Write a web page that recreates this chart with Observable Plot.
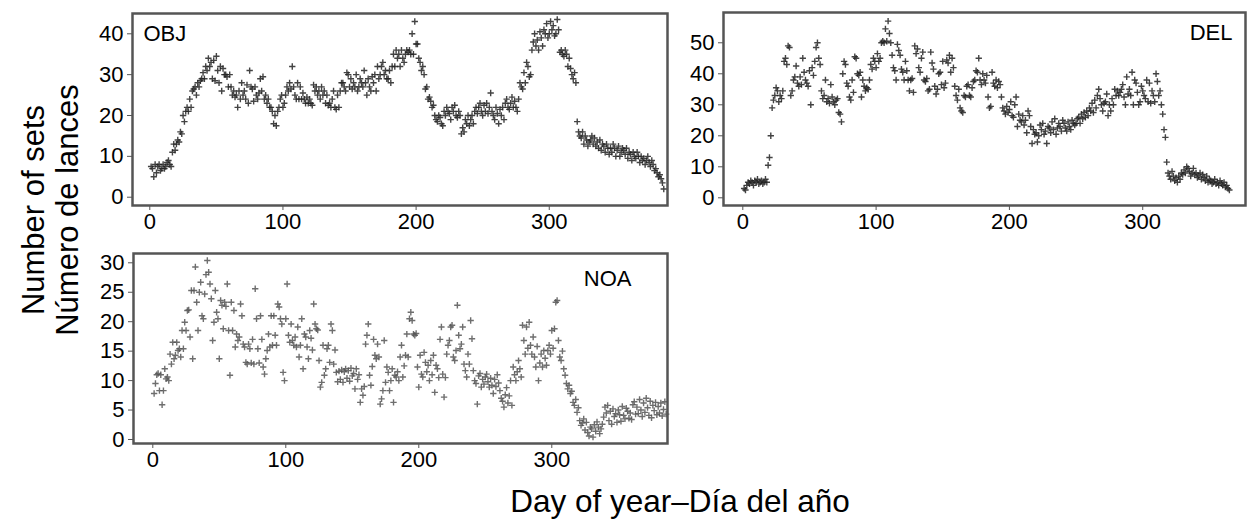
<!DOCTYPE html>
<html>
<head>
<meta charset="utf-8">
<script src="https://cdn.jsdelivr.net/npm/d3@7"></script>
<script src="https://cdn.jsdelivr.net/npm/@observablehq/plot@0.6"></script>
<style>
  html, body { margin: 0; padding: 0; background: #fff; }
  #fig { position: relative; width: 1248px; height: 525px; overflow: hidden; font-family: "Liberation Sans", Arial, sans-serif; color: #000; }
  .panel { position: absolute; }
  .ytitle { position: absolute; transform: translate(-50%, -50%) rotate(-90deg); white-space: nowrap; font-size: 31px; line-height: 1; }
  .xtitle { position: absolute; transform: translateX(-50%); white-space: nowrap; font-size: 31.5px; line-height: 1; }
</style>
</head>
<body>
<div id="fig"></div>
<script>
// OBJ – number of sets per day (day 1 onward)
const objSets = [
  7.5, 7, 5, 8, 6, 7.5, 8, 6.5, 7, 8,
  7, 7.5, 8.5, 9, 8, 7.5, 11, 13, 11.5, 13,
  14, 13.5, 16, 15.5, 20, 18.5, 21, 22, 21, 24,
  22, 26, 26.5, 27, 25, 28, 27, 28.5, 29, 30.5,
  29, 32, 31, 34, 32, 33, 29, 33.5, 28.5, 34.5,
  31, 28, 32, 26, 31.5, 30, 30, 29.5, 27, 30,
  27, 25, 26, 24.5, 25, 22, 26, 24, 28, 25,
  26, 24, 27.5, 23, 31, 27, 26.5, 23.5, 27, 25,
  24, 25.5, 29, 26, 29.5, 24, 25, 23, 24, 22,
  22, 21, 18, 20, 17.5, 21, 22, 24, 25, 22,
  23, 25, 27, 26, 28, 26.5, 32, 27, 25, 24,
  28, 24, 27, 24, 25.5, 24, 23, 24.5, 23, 24,
  23, 22.5, 27.5, 26, 27, 25, 26, 24, 27, 25,
  26, 23, 25, 22.5, 23, 22, 24, 26, 22, 21.5,
  25, 22, 26, 28, 28, 27, 26, 30.5, 30, 27,
  29, 26.5, 28, 27, 30, 26, 27, 29, 28, 27,
  31, 28, 25, 29, 27, 26, 29.5, 28, 30, 26,
  32, 29, 30, 32, 33, 30, 31, 29, 29, 31,
  28, 32, 35, 32, 36, 34, 35, 32, 36, 34,
  33, 35, 36, 35.5, 36, 35, 40, 35, 43, 37.5,
  37.5, 34, 33, 31, 32, 30, 26.5, 27, 24, 24.5,
  23.5, 22, 22.5, 20, 19, 18.5, 20, 19.5, 18, 17.5,
  21, 20, 22, 21, 20.5, 19, 22, 21, 22.5, 20,
  19.5, 21, 20, 15.5, 17, 16, 19, 18, 20, 17.5,
  19, 20, 18, 21, 22, 20.5, 22, 23, 21, 20,
  22.5, 21, 23, 20.5, 22, 25.5, 21, 20, 19, 22,
  20.5, 18, 21.5, 20, 22, 19, 23, 24, 22, 21.5,
  23, 24.5, 22, 23.5, 22, 21, 24, 28, 27, 26.5,
  30.5, 28, 33, 32, 29.5, 30, 36, 38, 40, 37,
  38.5, 36, 40.5, 39, 37, 41, 40, 42.5, 39, 40,
  43, 41, 42, 39.5, 40, 43.5, 41, 35.5, 36, 35,
  34.5, 36, 35, 32, 34, 31.5, 30, 29, 30.5, 28,
  18.5, 16, 15, 14.5, 16, 13, 15, 14, 12.5, 13.5,
  14, 15, 13, 14.5, 12.5, 13.5, 12, 14, 11.5, 13,
  12.5, 11, 13, 12, 10.5, 12, 11, 13, 12, 10,
  11.5, 12.5, 10, 11, 12, 11.5, 10.5, 12, 9.5, 11,
  10.5, 9, 11, 10, 9.5, 11, 10, 8.5, 10, 9,
  9.5, 8, 9, 10, 8.5, 7.5, 9, 8, 6.5, 7,
  6, 5, 5.5, 4.5, 3.5, 2
];

// DEL – number of sets per day (day 1 onward)
const delSets = [
  3, 2.5, 4, 5, 4.5, 5.5, 5, 4, 5.5, 5,
  6, 4.5, 5, 5.5, 4.5, 5, 6, 5, 10.5, 13,
  20, 29, 31.5, 33, 35.5, 34.5, 31, 33, 32, 34.5,
  44, 45, 43, 49, 48.5, 33, 34.5, 38, 39, 42.5,
  37, 36, 39, 36.5, 45, 40.5, 38, 37, 36, 41,
  30, 42, 39.5, 44, 48.5, 50, 45, 43, 34.5, 32,
  33, 38, 31, 32, 30.5, 36.5, 32.5, 31, 30, 31.5,
  32, 27.5, 27, 24.5, 40, 44, 43, 37, 36, 32.5,
  31.5, 38, 34, 45.5, 45, 40, 39.5, 40.5, 32.5, 38,
  36, 34.5, 35.5, 35, 38, 43, 41.5, 45, 44, 42,
  46.5, 44, 45, 50, 50.5, 50, 54.5, 50.5, 57, 53,
  50, 46, 42, 41, 38, 49.5, 47.5, 46, 41.5, 40.5,
  38, 44, 41, 38, 34.5, 38, 38.5, 34, 49, 46.5,
  48, 42, 40.5, 45, 47, 38, 37.5, 38.5, 34.5, 35,
  47, 43.5, 41.5, 36, 33.5, 35, 40, 40.5, 36.5, 44,
  35.5, 37, 44.5, 43.5, 46, 40.5, 45, 42, 36, 33,
  31.5, 35, 29, 28, 27.5, 33, 32.5, 36, 36.5, 33,
  32.5, 35.5, 37.5, 38, 41, 40.5, 45, 38, 36.5, 40,
  38, 37, 39.5, 32.5, 29, 29.5, 40.5, 37, 36, 38,
  35.5, 37.5, 36.5, 32.5, 29, 28, 27, 29.5, 27.5, 28.5,
  31, 26.5, 26, 30, 32.5, 23, 27, 25, 24.5, 26.5,
  23.5, 25, 21, 28, 26.5, 23, 17.5, 22, 20.5, 21,
  18, 20, 23.5, 22, 24, 20.5, 21.5, 17.5, 23, 22.5,
  21, 24.5, 22, 25.5, 20.5, 22.5, 24, 23, 21.5, 25,
  24, 22.5, 21.5, 24.5, 23, 22, 25, 24, 23.5, 24,
  25.5, 26, 24, 27, 25.5, 27.5, 26, 28, 26.5, 29,
  28, 30.5, 27.5, 31.5, 29, 33, 35, 32, 30, 28,
  30.5, 31, 33.5, 26.5, 30, 28, 32, 30, 35, 33,
  34.5, 33, 34, 35, 36.5, 32.5, 30, 39, 33.5, 35,
  33, 40.5, 30, 38, 37, 34, 30, 31, 36, 34.5,
  33, 32, 38, 31, 37, 30.5, 34.5, 33, 31, 40,
  37.5, 33, 34.5, 30, 27, 22, 19.5, 11.5, 8, 7,
  6, 8.5, 7, 5.5, 6.5, 5, 7, 6, 8, 7.5,
  9, 8, 10, 9.5, 8.5, 7, 8, 9.5, 7.5, 8,
  6.5, 7, 8, 6, 7.5, 6.5, 5.5, 7, 5, 6,
  5.5, 4.5, 5, 6, 4.5, 5, 4, 5.5, 4.5, 4,
  5, 3.5, 4, 3, 2.5
];

// NOA – number of sets per day (day 1 onward)
const noaSets = [
  7.8, 9.5, 11, 11.2, 8.3, 11, 5.9, 8.3, 12, 10.3,
  10.6, 10, 14.5, 12.8, 16.5, 13.7, 14.3, 16.5, 15.1, 15.4,
  14, 18.5, 15.4, 19.9, 18.5, 21.9, 22, 17.4, 25.3, 13.7,
  25.3, 29.3, 23.3, 18.5, 25, 26.7, 21, 20.5, 24.7, 28,
  30.4, 28.4, 26.4, 23.9, 16.8, 19.9, 25.3, 21.6, 20.5, 13.7,
  23.6, 22.8, 18.8, 23.3, 22.6, 26.4, 18.5, 10.9, 23.3, 18.5,
  21.9, 15.7, 17.9, 16.8, 17.4, 23, 21, 16.2, 15.7, 13.1,
  12.8, 16.2, 15.4, 13, 17, 12.8, 25.6, 20.5, 15.4, 13,
  21, 17, 12.3, 11.1, 13.7, 15.1, 17.9, 15.7, 21, 16,
  21, 17.7, 16, 23, 22.5, 20.5, 19.6, 11.4, 10, 20.5,
  26.4, 17.7, 16.5, 19.6, 16.8, 16, 17.4, 15.7, 19.1, 14,
  16, 20.5, 12, 17.9, 17.4, 15.7, 13.7, 18.5, 17.2, 15.2,
  23, 19.6, 18.8, 18.6, 13.4, 8.9, 9.7, 16, 10.9, 12,
  15.4, 16, 13.1, 19.6, 18.5, 12.8, 15.2, 11.4, 9.8, 11.6,
  10.2, 11.8, 9.7, 11.5, 12, 10.4, 11.7, 9.9, 12.1, 10.8,
  11.2, 8.6, 12, 10.2, 11, 6.3, 8.6, 7.5, 9, 16.2,
  17.7, 19.6, 10.9, 9.2, 12.4, 17, 14.3, 13.7, 16.2, 14,
  6, 6.9, 8.3, 16.8, 9.7, 12.3, 11.4, 8.3, 10, 12,
  6.3, 10.9, 10.6, 11.5, 10, 14, 16, 10.6, 12.5, 14.3,
  17.9, 14, 20.5, 21.6, 20.2, 17.9, 17.7, 18, 12.3, 8.9,
  14.3, 11.1, 10.6, 14.8, 13.1, 11.5, 12.6, 10, 13.4, 11,
  14.3, 8, 12.6, 12, 10.5, 17, 19.1, 11.1, 7.2, 10.5,
  14.5, 16, 16.8, 19.1, 19.4, 14, 13.4, 15.1, 22.8, 17.7,
  15.4, 16.2, 19.1, 12.8, 11.7, 10.6, 14.5, 12.8, 20.2, 17.1,
  11.7, 10, 9.5, 6, 10.8, 11.2, 8.9, 10.2, 9.4, 10.6,
  11.1, 9.8, 8.9, 10.4, 9.2, 7.8, 10.2, 9, 11, 9.6,
  8.3, 7, 6.5, 5.5, 7.6, 8.8, 6.2, 7.4, 10, 5.8,
  12.3, 11, 10, 11.5, 13.4, 12, 10.6, 19.4, 16.8, 14.5,
  19.1, 15.5, 19.9, 16, 14.5, 17.4, 14, 12.3, 15.8, 10,
  13, 14.5, 12.3, 15.1, 13.8, 12.6, 15.1, 16, 14.5, 18.5,
  15.5, 18.8, 23.3, 23.6, 16.8, 14, 13.4, 15, 12, 10.9,
  9.5, 8.6, 9.2, 7.8, 8.2, 6.3, 5.8, 6.8, 4.6, 5.4,
  3.2, 2.4, 2.8, 3.5, 1.6, 2.9, 1.2, 0.6, 2.1, 1.8,
  0.4, 2.5, 1.4, 3, 2.1, 1, 1.8, 2.6, 3.8, 5.5,
  4.5, 5.8, 3.2, 4.8, 2.6, 5.2, 3.9, 4.4, 2.9, 5,
  4.2, 3.1, 5.6, 4.1, 3.5, 5.3, 4.8, 3.6, 4.5, 3.4,
  5.9, 6.4, 4.3, 5.5, 4.4, 6.8, 5, 3.9, 6.2, 4.6,
  7, 5.4, 4.1, 6.5, 3.7, 5.8, 4.9, 6.3, 4.2, 5.6,
  4.5, 6.2, 4, 5.1, 6.4, 4.3
];

const xTicks = [0, 100, 200, 300];
const objYTicks = [0, 10, 20, 30, 40];
const delYTicks = [0, 10, 20, 30, 40, 50];
const noaYTicks = [0, 5, 10, 15, 20, 25, 30];

const fig = document.getElementById("fig");

function panel({label, values, left, top, width, height, ml, mt, mr, mb, xDomain, yDomain, yTicks, labelAnchor, ldx, ldy, dotColor}) {
  const data = values.map((v, i) => ({day: i + 1, v}));
  const isLeft = labelAnchor === "top-left";
  const p = Plot.plot({
    width, height,
    marginLeft: ml, marginTop: mt, marginRight: mr, marginBottom: mb,
    style: {fontFamily: "'Liberation Sans', Arial, sans-serif", fontSize: "22px", color: "#000", background: "transparent", overflow: "visible"},
    x: {domain: xDomain, ticks: xTicks},
    y: {domain: yDomain, ticks: yTicks},
    marks: [
      Plot.dot(data, {x: "day", y: "v", symbol: "plus", r: 2.2, stroke: dotColor, strokeWidth: 1.4, strokeOpacity: 0.85}),
      Plot.frame({stroke: "#555", strokeWidth: 2.5}),
      Plot.axisX({ticks: xTicks, tickSize: 5, tickPadding: 3, stroke: "#555", fontSize: 22, label: null, fill: "#000"}),
      Plot.axisY({ticks: yTicks, tickSize: 5, tickPadding: 4, stroke: "#555", fontSize: 22, label: null, fill: "#000"}),
      Plot.text([label], {text: d => d, frameAnchor: labelAnchor, dx: ldx, dy: ldy, lineAnchor: "top", textAnchor: isLeft ? "start" : "end", fontSize: 22, fill: "#000"})
    ]
  });
  const wrap = document.createElement("div");
  wrap.className = "panel";
  wrap.style.left = left + "px";
  wrap.style.top = top + "px";
  wrap.appendChild(p);
  fig.appendChild(wrap);
}

// OBJ: frame x 132..667, y 13..205 ; day0 at 149.3 (1.3317 px/day); y0 at 196.7, 40 at 33.3
panel({label: "OBJ", values: objSets, left: 0, top: 0, width: 690, height: 245,
  ml: 132, mt: 13, mr: 690 - 667, mb: 245 - 205,
  xDomain: [-12.99, 388.8], yDomain: [-2.03, 44.97], yTicks: objYTicks,
  labelAnchor: "top-left", ldx: 11, ldy: 12, dotColor: "#222"});

// DEL: frame x 723..1245, y 12..205 ; day0 at 742.3 ; y0 at 197.3, 50 at 42.3
panel({label: "DEL", values: delSets, left: 600, top: 0, width: 648, height: 245,
  ml: 723 - 600, mt: 12, mr: 648 - 645, mb: 245 - 205,
  xDomain: [-14.48, 377.1], yDomain: [-2.48, 59.77], yTicks: delYTicks,
  labelAnchor: "top-right", ldx: -13, ldy: 12, dotColor: "#222"});

// NOA: frame x 133..667, y 253..443 ; day0 at 152.3 ; y0 at 439, 30 at 262.3
panel({label: "NOA", values: noaSets, left: 0, top: 240, width: 690, height: 245,
  ml: 133, mt: 13, mr: 690 - 667, mb: 245 - 203,
  xDomain: [-14.51, 387.0], yDomain: [-0.68, 31.58], yTicks: noaYTicks,
  labelAnchor: "top-right", ldx: -36, ldy: 17, dotColor: "#555"});

// Axis titles
const yt1 = document.createElement("div");
yt1.className = "ytitle"; yt1.textContent = "Number of sets";
yt1.style.left = "33px"; yt1.style.top = "210px";
fig.appendChild(yt1);
const yt2 = document.createElement("div");
yt2.className = "ytitle"; yt2.textContent = "Número de lances";
yt2.style.left = "67px"; yt2.style.top = "210px";
fig.appendChild(yt2);
const xt = document.createElement("div");
xt.className = "xtitle"; xt.textContent = "Day of year–Día del año";
xt.style.left = "680px"; xt.style.top = "486px";
fig.appendChild(xt);
</script>
</body>
</html>
